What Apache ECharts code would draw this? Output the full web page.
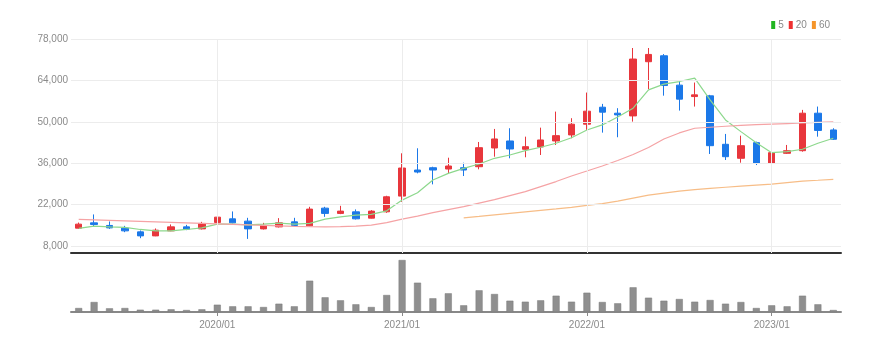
<!DOCTYPE html>
<html><head><meta charset="utf-8">
<script src="https://cdn.jsdelivr.net/npm/echarts@6/dist/echarts.min.js"></script>
<style>html,body{margin:0;padding:0;background:#fff}#c{width:889px;height:351px}</style>
</head><body><div id="c"></div>
<script>
const months = ['2019/04','2019/05','2019/06','2019/07','2019/08','2019/09','2019/10','2019/11','2019/12',
'2020/01','2020/02','2020/03','2020/04','2020/05','2020/06','2020/07','2020/08','2020/09','2020/10','2020/11','2020/12',
'2021/01','2021/02','2021/03','2021/04','2021/05','2021/06','2021/07','2021/08','2021/09','2021/10','2021/11','2021/12',
'2022/01','2022/02','2022/03','2022/04','2022/05','2022/06','2022/07','2022/08','2022/09','2022/10','2022/11','2022/12',
'2023/01','2023/02','2023/03','2023/04','2023/05'];
// [open, close, low, high]
const candles = [
[14000,15360,13770,15900],[15800,15260,14440,18650],[14920,14100,13760,16270],[14000,13090,12650,14780],
[12750,11390,10610,13220],[11390,13320,11290,13900],[13090,14440,12990,15260],[14440,13660,13320,15120],
[13760,15600,13560,16140],[15940,17730,15600,18990],[17160,15800,15600,19660],[16380,13760,10370,17500],
[13760,14920,13560,15800],[14440,15800,14240,17390],[16140,14920,14440,17500],[14780,20450,14680,21230],
[20780,18990,17830,21230],[18990,19770,18750,21560],[19530,17160,16950,20340],[17390,19770,17290,20100],
[19530,24620,19190,24960],[24850,34350,22920,39330],[33670,32990,32550,41030],[34450,33670,28820,34790],
[34010,35030,32550,37840],[34450,33670,31640,36150],[34790,41230,33910,43160],[41130,44180,38180,47570],
[43500,40790,37640,47810],[40690,41570,37980,44960],[41470,43840,38760,48010],[43500,45300,42150,53440],
[45540,49170,44420,51200],[49170,53580,47230,59880],[54930,53240,46320,56050],[52900,52320,44760,54590],
[51980,71220,50050,74950],[70310,72780,61050,74950],[72330,62260,58830,72900],[62390,57650,53780,63950],
[58530,59100,55140,63270],[58770,41910,39100,59100],[42380,38180,37060,45880],[37640,41910,36150,45300],
[42930,35940,35360,43270],[35940,39540,33670,43610],[39330,40210,39100,42150],[40210,52900,39880,54020],
[52900,47060,44960,55140],[47230,44080,43840,47810]];
const ma5 = [13900,14680,14440,14240,13560,13090,13090,13560,14100,15360,15360,15120,15360,15700,15400,15600,
17050,17830,18410,18650,19870,23500,25970,30280,32550,34250,35700,37640,38760,40210,41370,42720,44590,47230,
48930,51640,54600,60800,62730,63610,64770,57410,50630,46660,42930,39540,39880,40690,42720,44420];
const ma20 = [16950,16820,16650,16480,16310,16140,15970,15800,15630,15460,15290,15090,14920,14750,14580,14480,
14440,14510,14680,15020,15870,17050,18070,19260,20280,21290,22480,23670,25020,26380,28070,29770,31640,33330,
35030,36890,38930,41300,44180,46220,47810,48150,48490,48760,49000,49200,49400,49610,49780,49950];
const ma60 = [null,null,null,null,null,null,null,null,null,null,null,null,null,null,null,null,null,null,null,null,
null,null,null,null,null,17490,17970,18480,18990,19500,20000,20510,21060,21700,22310,23160,24170,25190,25870,
26550,27060,27460,27840,28240,28580,28920,29430,29940,30210,30520];
const volume = [400,1000,370,400,230,230,270,200,270,730,570,570,500,830,570,3130,1470,1170,770,500,1700,
5200,2930,1370,1870,670,2170,1800,1130,1030,1170,1630,1030,1930,1000,870,2470,1430,1130,1300,1030,1200,830,
1000,400,670,570,1630,770,200];
const priceTicks = [8000,22000,36000,50000,64000,78000];
const yearMarks = ['2020/01','2021/01','2022/01','2023/01'];

const FONT = '"Liberation Sans Narrow","Liberation Sans",sans-serif';
const chart = echarts.init(document.getElementById('c'), null, {renderer:'canvas'});
const isJan = (i, v) => String(v).endsWith('/01');
const hLines = priceTicks.map(v => ({yAxis: v, label: {show: true, position: 'start', distance: 3,
  formatter: () => v.toLocaleString('en-US'), color: '#8a8a8a', fontSize: 10, fontFamily: FONT}}));
const vLines = yearMarks.map(m => ({xAxis: m, label: {show: false}}));

chart.setOption({
  animation: false,
  backgroundColor: '#fff',
  legend: {
    right: 54, top: 15, itemWidth: 4, itemHeight: 8, itemGap: 5, icon: 'rect',
    textStyle: {color: '#8a8a8a', fontSize: 10, fontFamily: FONT, padding: [0,0,0,-2]},
    data: ['5','20','60']
  },
  grid: [
    {left: 71, width: 770, top: 39, height: 214},
    {left: 71, width: 770, top: 256, height: 56}
  ],
  xAxis: [
    {type: 'category', gridIndex: 0, data: months, boundaryGap: true,
     axisLine: {lineStyle: {color: '#333', width: 2}}, axisTick: {show: false},
     axisLabel: {show: false}, splitLine: {show: false}},
    {type: 'category', gridIndex: 1, data: months, boundaryGap: true,
     axisLine: {lineStyle: {color: '#888', width: 2}},
     axisTick: {show: true, interval: isJan, alignWithLabel: true, length: 4, lineStyle: {color: '#888'}},
     axisLabel: {interval: isJan, color: '#8a8a8a', fontSize: 10, fontFamily: FONT, margin: 8},
     splitLine: {show: false}}
  ],
  yAxis: [
    {type: 'value', gridIndex: 0, min: 5600, max: 78000, axisLine: {show: false},
     axisTick: {show: false}, axisLabel: {show: false}, splitLine: {show: false}},
    {type: 'value', gridIndex: 1, min: 0, max: 5600, show: false, splitLine: {show: false}}
  ],
  series: [
    {type: 'candlestick', name: 'price', xAxisIndex: 0, yAxisIndex: 0, data: candles, barWidth: 7,
     itemStyle: {color: '#e8363c', color0: '#1b78e8', borderColor: '#e8363c', borderColor0: '#1b78e8', borderWidth: 1},
     markLine: {silent: true, symbol: 'none', animation: false,
       lineStyle: {color: '#ececec', width: 1, type: 'solid'},
       data: hLines.concat(vLines)}, z: 2},
    {type: 'line', name: '5', data: ma5, showSymbol: false, color: '#22b522',
     lineStyle: {color: '#8dd88d', width: 1.2}, z: 3},
    {type: 'line', name: '20', data: ma20, showSymbol: false, color: '#ee3030',
     lineStyle: {color: '#f5a3a5', width: 1.2}, z: 3},
    {type: 'line', name: '60', data: ma60, showSymbol: false, color: '#f5952a',
     lineStyle: {color: '#f7bd87', width: 1.2}, z: 3},
    {type: 'bar', name: 'vol', xAxisIndex: 1, yAxisIndex: 1, data: volume, barWidth: 7,
     itemStyle: {color: '#8f8f8f', borderColor: '#7a7a7a', borderWidth: 0.5}}
  ]
});
</script></body></html>
